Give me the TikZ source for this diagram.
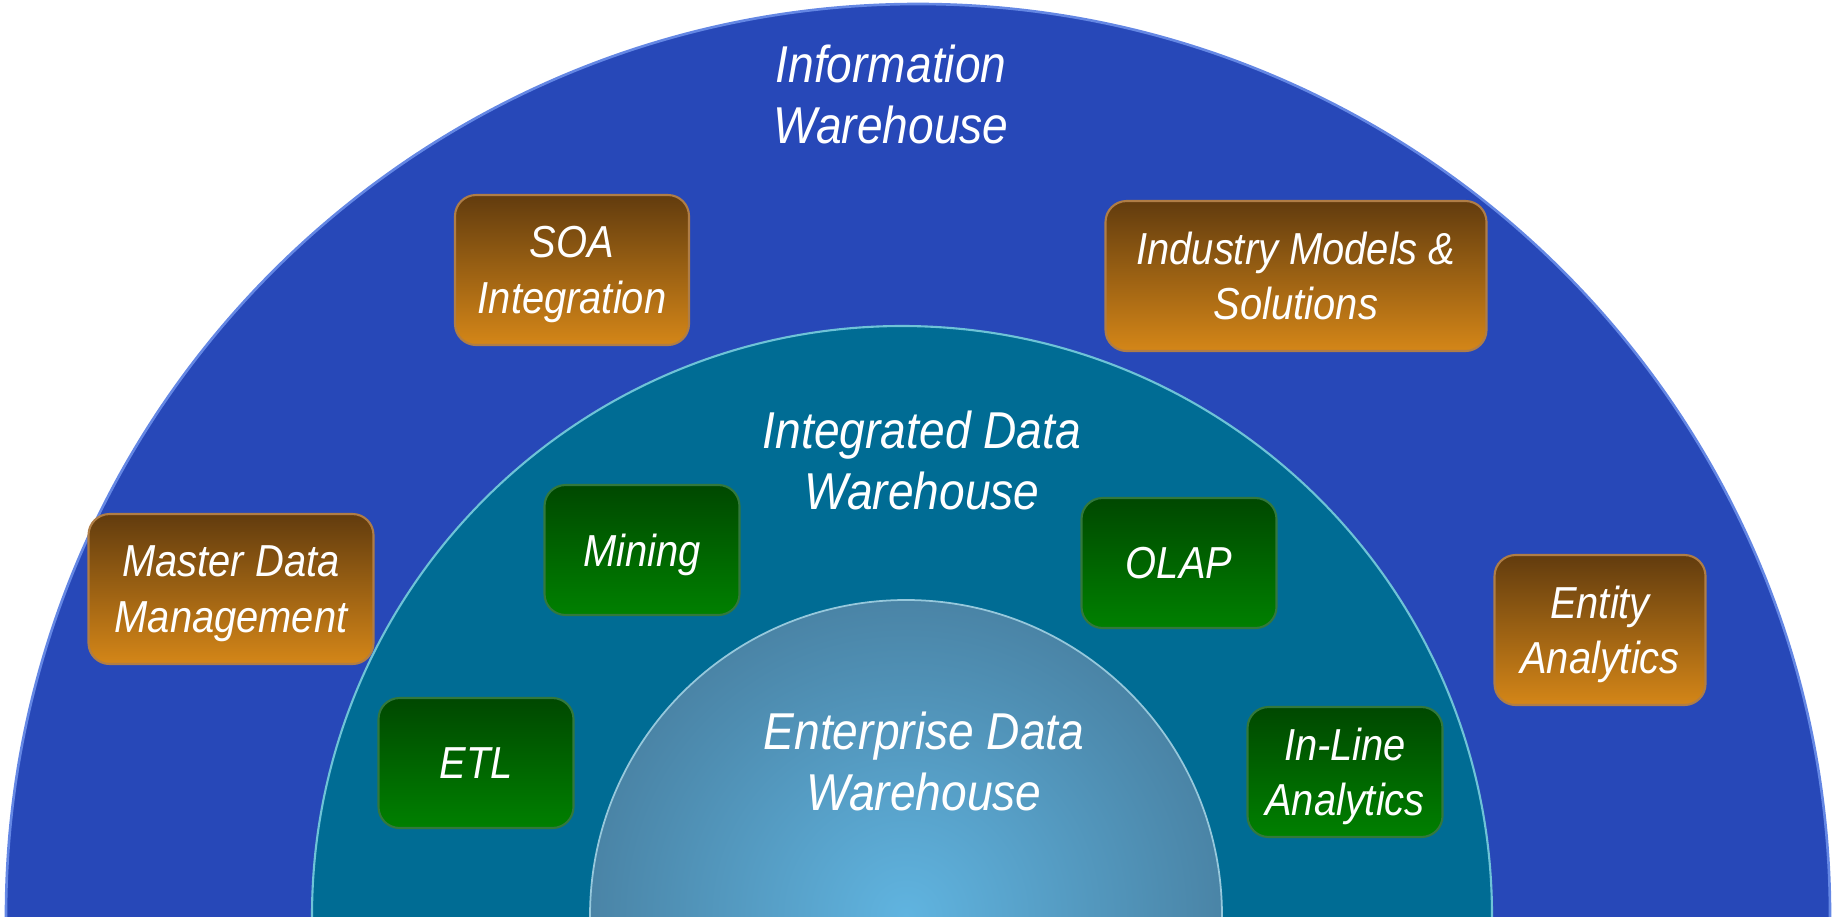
\documentclass[tikz,border=0pt]{standalone}
\usepackage{fontspec}
\usepackage{tikz}
\usepackage{xcolor}
\setmainfont{Liberation Sans}[FakeStretch=0.89]
\definecolor{infoblue}{RGB}{39,72,184}
\definecolor{infoedge}{RGB}{100,135,228}
\definecolor{idwteal}{RGB}{0,108,148}
\definecolor{idwedge}{RGB}{110,195,215}
\definecolor{edwlight}{RGB}{96,180,224}
\definecolor{edwdark}{RGB}{74,132,166}
\definecolor{edwedge}{RGB}{150,200,220}
\definecolor{brtop}{RGB}{98,60,14}
\definecolor{brbot}{RGB}{212,134,24}
\definecolor{bredge}{RGB}{175,125,70}
\definecolor{grtop}{RGB}{0,72,0}
\definecolor{grbot}{RGB}{0,128,0}
\definecolor{gredge}{RGB}{50,120,60}
\def\px{0.2mm}
\tikzset{
	toolbox/.style={rounded corners=12pt,align=center,text=white,inner sep=0pt,text depth=0pt,line width=1.2pt,font=\fontsize{25.5}{31.5}\selectfont\itshape},
	brownbox/.style={toolbox,top color=brtop,bottom color=brbot,draw=bredge,minimum height=150*\px},
	greenbox/.style={toolbox,top color=grtop,bottom color=grbot,draw=gredge,minimum width=195*\px,minimum height=130*\px},
	domelabel/.style={align=center,text=white,text depth=0pt,font=\fontsize{29.5}{35}\selectfont\itshape}
}

\begin{document}
\begin{tikzpicture}[x=\px,y=-\px]
	\useasboundingbox (0,0) rectangle (1833,916);
	\begin{scope}
	\clip (0,0) rectangle (1833,916);
	\fill[infoblue,draw=infoedge,line width=1.5pt] (918,916) circle[radius=912];
	\fill[idwteal,draw=idwedge,line width=1.2pt] (902,916) circle[radius=590];
	\shade[inner color=edwlight,outer color=edwdark,draw=edwedge,line width=1pt] (906,916) circle[radius=316];
	\end{scope}
	\node[domelabel] (info) at (891,94) {Information\\Warehouse};
	\node[domelabel] (idw) at (922,460) {Integrated Data\\Warehouse};
	\node[domelabel] (edw) at (924,761) {Enterprise Data\\Warehouse};
	\node[brownbox,minimum width=234*\px] (soa) at (572,270) {SOA\\Integration};
	\node[brownbox,minimum width=381*\px] (industry) at (1296,276) {Industry Models \&\\Solutions};
	\node[brownbox,minimum width=285*\px] (mdm) at (231,589) {Master Data\\Management};
	\node[brownbox,minimum width=211*\px] (entity) at (1600,630) {Entity\\Analytics};
	\node[greenbox] (mining) at (642,550) {Mining};
	\node[greenbox] (olap) at (1179,563) {OLAP};
	\node[greenbox] (etl) at (476,763) {ETL};
	\node[greenbox] (inline) at (1345,772) {In-Line\\Analytics};
\end{tikzpicture}
\end{document}
